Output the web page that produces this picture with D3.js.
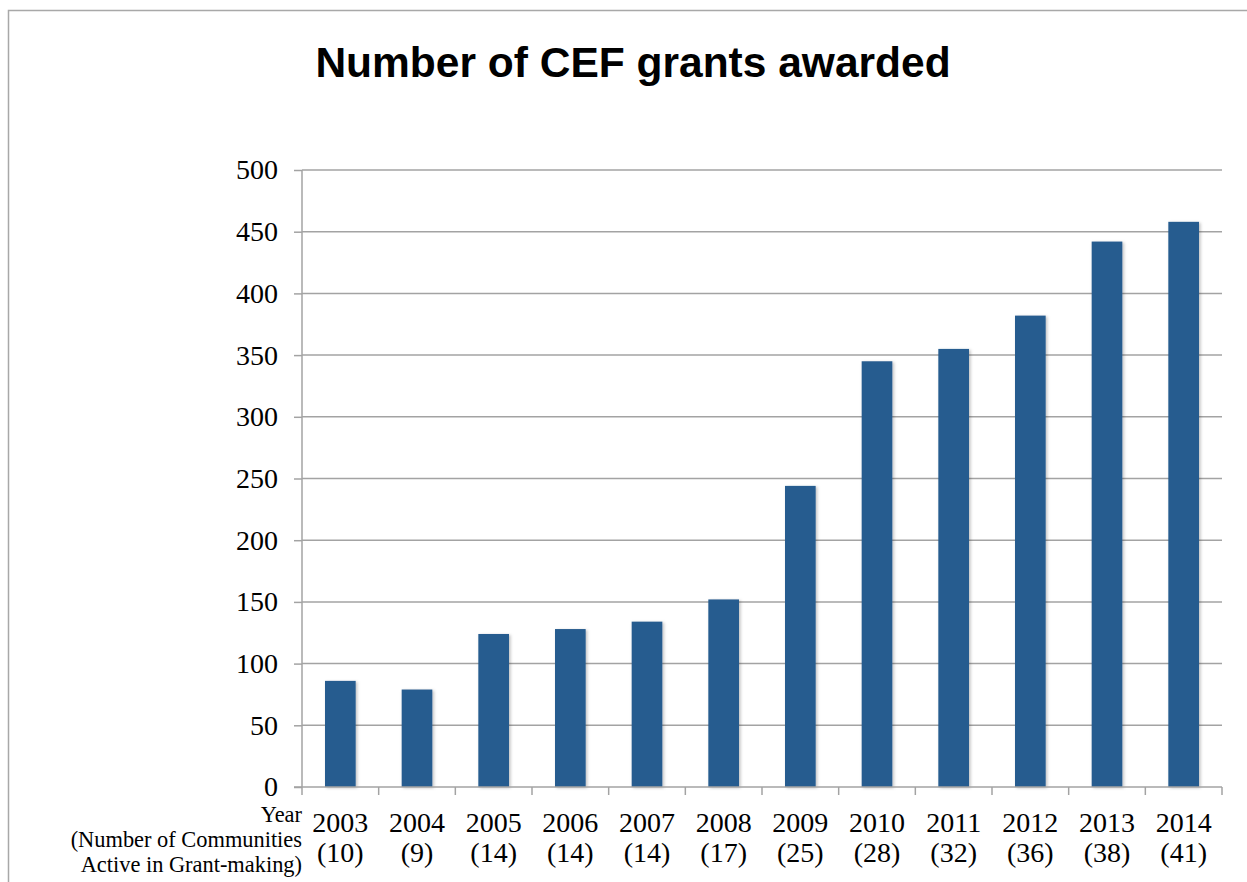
<!DOCTYPE html>
<html>
<head>
<meta charset="utf-8">
<script src="https://cdn.jsdelivr.net/npm/d3@7"></script>
<style>
  body { margin: 0; background: #fff; }
  svg { display: block; }
</style>
</head>
<body>
<svg id="chart" width="1247" height="882"></svg>
<script>
// data
var years = ['2003', '2004', '2005', '2006', '2007', '2008', '2009', '2010', '2011', '2012', '2013', '2014'],
    communities = ['(10)', '(9)', '(14)', '(14)', '(14)', '(17)', '(25)', '(28)', '(32)', '(36)', '(38)', '(41)'],
    grants = [86, 79, 124, 128, 134, 152, 244, 345, 355, 382, 442, 458],
    yTicks = [0, 50, 100, 150, 200, 250, 300, 350, 400, 450, 500];

var svg = d3.select('#chart'),
    plotL = 302, plotR = 1222, plotT = 170, plotB = 787,
    grid = '#a3a3a3',
    serif = '"Liberation Serif", "Times New Roman", serif';

var x = d3.scaleBand().domain(years).range([plotL, plotR]).padding(0),
    y = d3.scaleLinear().domain([0, 500]).range([plotB, plotT]);

// outer frame (only top + left visible in the original)
svg.append('path')
    .attr('d', 'M8.5,882 V10.5 H1247')
    .attr('fill', 'none')
    .attr('stroke', '#a8a8a8')
    .attr('stroke-width', 1.5);

svg.append('text')
    .attr('x', 633)
    .attr('y', 77)
    .attr('text-anchor', 'middle')
    .style('font-family', '"Liberation Sans", Arial, sans-serif')
    .style('font-weight', 'bold')
    .style('font-size', '42.5px')
    .text('Number of CEF grants awarded');

var defs = svg.append('defs');
defs.append('filter').attr('id', 'shadow')
    .attr('x', '-20%').attr('y', '-5%').attr('width', '140%').attr('height', '110%')
  .append('feDropShadow')
    .attr('dx', 1.5).attr('dy', 1).attr('stdDeviation', 1.5)
    .attr('flood-color', '#000').attr('flood-opacity', 0.25);

// y axis w/ gridlines
var yAxis = d3.axisLeft(y).tickValues(yTicks).tickSize(8).tickPadding(16);
var gy = svg.append('g').attr('transform', 'translate(' + plotL + ',0)').call(yAxis);
gy.select('.domain').remove();
gy.selectAll('.tick line').attr('stroke', grid).attr('stroke-width', 1.5);
gy.selectAll('.tick text')
    .style('font-family', serif).style('font-size', '28px').attr('fill', '#000');

svg.append('g').selectAll('line')
    .data(yTicks.filter(function (d) { return d > 0; }))
    .join('line')
    .attr('x1', plotL).attr('x2', plotR)
    .attr('y1', function (d) { return y(d); })
    .attr('y2', function (d) { return y(d); })
    .attr('stroke', grid).attr('stroke-width', 1.5);

// bars
var bw = x.bandwidth() * 0.4;
svg.append('g').selectAll('rect')
    .data(grants)
    .join('rect')
    .attr('x', function (d, i) { return x(years[i]) + (x.bandwidth() - bw) / 2; })
    .attr('y', function (d) { return y(d); })
    .attr('width', bw)
    .attr('height', function (d) { return y(0) - y(d); })
    .attr('fill', '#275c8f')
    .attr('filter', 'url(#shadow)');

// axes lines
svg.append('line')
    .attr('x1', plotL).attr('x2', plotL).attr('y1', plotT).attr('y2', plotB)
    .attr('stroke', grid).attr('stroke-width', 1.5);
svg.append('line')
    .attr('x1', plotL - 8).attr('x2', plotR).attr('y1', plotB).attr('y2', plotB)
    .attr('stroke', grid).attr('stroke-width', 1.5);

// x ticks at band edges
var edges = years.map(function (d) { return x(d); }).concat([plotR]);
svg.append('g').selectAll('line')
    .data(edges)
    .join('line')
    .attr('x1', function (d) { return d; }).attr('x2', function (d) { return d; })
    .attr('y1', plotB).attr('y2', plotB + 8)
    .attr('stroke', grid).attr('stroke-width', 1.5);

// category labels (two lines)
var lab = svg.append('g').selectAll('text')
    .data(years)
    .join('text')
    .attr('text-anchor', 'middle')
    .style('font-family', serif).style('font-size', '28px');
lab.append('tspan')
    .attr('x', function (d) { return x(d) + x.bandwidth() / 2; })
    .attr('y', 832)
    .text(function (d) { return d; });
lab.append('tspan')
    .attr('x', function (d) { return x(d) + x.bandwidth() / 2; })
    .attr('y', 862)
    .text(function (d, i) { return communities[i]; });

// axis caption at left
var cap = svg.append('text')
    .attr('text-anchor', 'end')
    .style('font-family', serif).style('font-size', '22.4px');
[['Year', 822], ['(Number of Communities', 847], ['Active in Grant-making)', 872]].forEach(function (l) {
    cap.append('tspan').attr('x', 302).attr('y', l[1]).text(l[0]);
});
</script>
</body>
</html>
